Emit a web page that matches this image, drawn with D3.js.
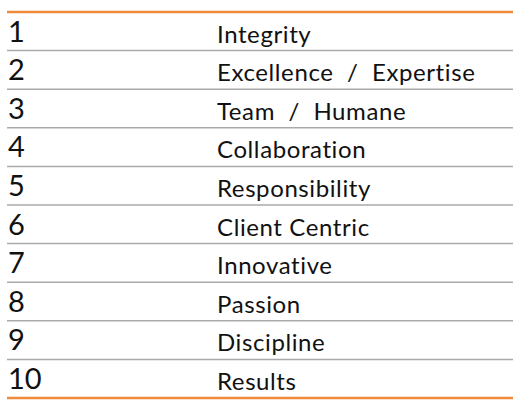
<!DOCTYPE html><html><head><script src="https://d3js.org/d3.v7.min.js"></script>
<style>body{margin:0;background:#fff}</style></head><body><svg width="520" height="407"></svg>
<script>
const ranks=["1","2","3","4","5","6","7","8","9","10"];
const values=["Integrity","Excellence  /  Expertise","Team  /  Humane","Collaboration","Responsibility","Client Centric","Innovative","Passion","Discipline","Results"];
const svg=d3.select("svg");
const y=d3.scaleBand().domain(ranks).range([12,398]);
const g=svg.selectAll("g.r").data(ranks).join("g").attr("transform",d=>`translate(0,${y(d)})`);
g.append("text").attr("x",8).attr("y",y.bandwidth()-9).attr("font-family","Lato, sans-serif").attr("font-size",29).attr("fill","#111").text(d=>d);
g.append("text").attr("x",217).attr("y",y.bandwidth()-8).attr("font-family","Lato, sans-serif").attr("font-size",24).attr("letter-spacing",0.6).style("white-space","pre").attr("fill","#111").text((d,i)=>values[i]);
svg.selectAll("line.s").data(ranks.slice(1)).join("line").attr("x1",7).attr("x2",513).attr("y1",d=>y(d)).attr("y2",d=>y(d)).attr("stroke","#aaa").attr("stroke-width",1.5);
[12,398].forEach(v=>svg.append("line").attr("x1",7).attr("x2",513).attr("y1",v).attr("y2",v).attr("stroke","#f08a3c").attr("stroke-width",2.5));
</script></body></html>
